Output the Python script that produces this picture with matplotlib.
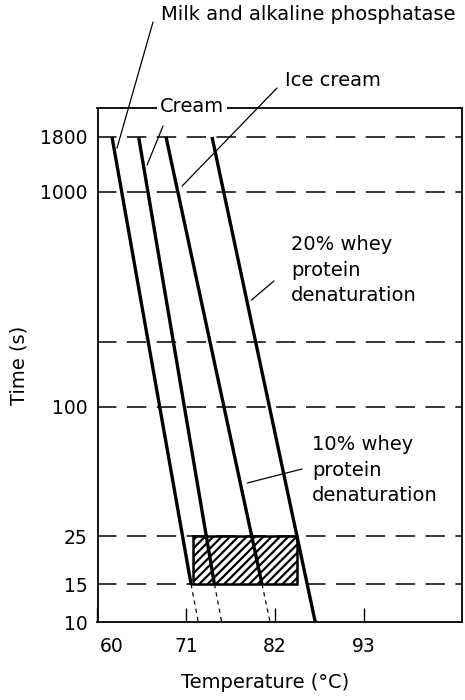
import matplotlib
matplotlib.use("Agg")
import matplotlib.pyplot as plt
from matplotlib.patches import Rectangle
from matplotlib.transforms import ScaledTranslation

plt.rcParams['font.family'] = ['DejaVu Sans']
plt.rcParams['lines.scale_dashes'] = False
plt.rcParams['hatch.linewidth'] = 1.6

# Time-temperature pasteurisation curves (log time vs temperature)
curve_names = ["Milk and alkaline phosphatase", "Cream", "Ice cream",
               "Whey protein denaturation"]
solid_times = [[1800, 15], [1800, 15], [1800, 15], [1800, 10]]
solid_temps = [[61.8, 71.6], [65.1, 74.5], [68.5, 80.4], [74.2, 87.0]]

# dashed continuation of the first three curves below 15 s
ext_times = [15, 10]
ext_temps = [[71.6, 72.5], [74.5, 75.4], [80.4, 81.4]]

# HTST region (hatched)
htst_temps = [71.8, 84.7]
htst_times = [15, 25]

grid_times = [1800, 1000, 200, 100, 25, 15]
y_ticks = [10, 15, 25, 100, 1000, 1800]
x_ticks = [60, 71, 82, 93]

W, H = 465, 700
X0, X1 = 60, 105.2
fig = plt.figure(figsize=(W / 100, H / 100), dpi=100)
ax = fig.add_axes([97.5 / W, 1 - 622 / H, (462 - 97.5) / W, (622 - 108) / H])
ax.set_yscale('log')
ax.set_xlim(X0, X1)
ax.set_ylim(10, 2455)

for s in ax.spines.values():
    s.set_linewidth(1.3)

# dashed reference levels
for t in grid_times:
    ax.plot([X0, X1], [t, t], color='black', lw=1.1,
            dashes=(14, 7.5), zorder=1)

# hatched HTST zone
ax.add_patch(Rectangle((htst_temps[0], htst_times[0]),
                       htst_temps[1] - htst_temps[0],
                       htst_times[1] - htst_times[0],
                       facecolor='white', edgecolor='black', lw=1.8,
                       hatch='////', zorder=2))

for tt, tc in zip(solid_times, solid_temps):
    ax.plot(tc, tt, color='black', lw=2.4, solid_capstyle='butt', zorder=3)
for tc in ext_temps:
    ax.plot(tc, ext_times, color='black', lw=0.9, dashes=(3, 3), zorder=3)

# axes ticks and labels
ax.set_xticks(x_ticks)
ax.set_xticklabels([str(v) for v in x_ticks])
ax.set_yticks(y_ticks)
ax.set_yticklabels([str(v) for v in y_ticks])
ax.yaxis.set_minor_locator(matplotlib.ticker.NullLocator())
ax.tick_params(axis='x', direction='in', length=10, width=1.0, pad=11,
               labelsize=13.5, top=False)
ax.tick_params(axis='y', length=0, pad=7, labelsize=13.5)
lab60 = ax.get_xticklabels()[0]
lab60.set_transform(lab60.get_transform()
                    + ScaledTranslation(0.14, 0, fig.dpi_scale_trans))

fs = 14
ax.set_xlabel("Temperature (°C)", fontsize=fs)
ax.xaxis.set_label_coords(0.46, -0.10)
ax.set_ylabel("Time (s)", fontsize=fs)
ax.yaxis.set_label_coords(-0.19, 0.5)


def px(x, y):
    return (x / W, 1 - y / H)


def leader(target, start):
    ax.annotate('', xy=target, xycoords='data',
                xytext=(start[0], H - start[1]), textcoords='figure pixels',
                arrowprops=dict(arrowstyle='-', lw=0.9, color='black',
                                shrinkA=0, shrinkB=0),
                annotation_clip=False)


fig.text(*px(161, 15), curve_names[0], fontsize=fs, ha='left', va='center')
leader((62.42, 1600), (153, 22))

fig.text(*px(192, 106), "Cream", fontsize=fs, ha='center', va='center',
         bbox=dict(facecolor='white', edgecolor='none', pad=2), zorder=5)
leader((66.15, 1334), (163, 126))

fig.text(*px(285, 81), "Ice cream", fontsize=fs, ha='left', va='center')
leader((70.50, 1065), (277, 88))

fig.text(*px(291, 270), "20% whey\nprotein\ndenaturation", fontsize=fs,
         ha='left', va='center', linespacing=1.45)
leader((79.08, 314), (274, 281))

fig.text(*px(312, 470), "10% whey\nprotein\ndenaturation", fontsize=fs,
         ha='left', va='center', linespacing=1.45)
leader((78.58, 44.3), (302, 469))

fig.savefig("out.png", dpi=100)
